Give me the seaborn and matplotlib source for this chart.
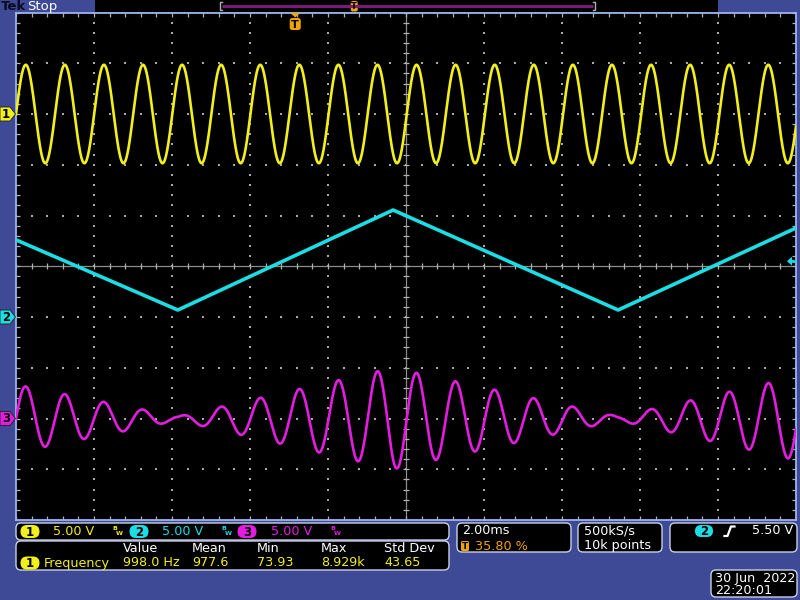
import numpy as np
import pandas as pd
import matplotlib
matplotlib.use("Agg")
import matplotlib.pyplot as plt
import seaborn as sns
from matplotlib.patches import FancyBboxPatch, Polygon, Rectangle

record_ms = [0.0, 20.0]            # 2.00 ms/div x 10 div
n_points = 10000                   # 10k points
ch1_freq_khz = 0.998               # measured frequency 998.0 Hz
ch1_amp_v = 4.85
tri_t_ms = [0.0, 4.15, 9.67, 15.44, 20.0]      # triangle vertices (ch2)
tri_v = [7.6, 0.69, 10.54, 0.69, 8.77]
ch3_env_v = [3.35, 0.2, 5.0, 0.2, 4.1]          # ch3 envelope at same vertices
volts_per_div = [5.0, 5.0, 5.0]
ch_offset_div = [3.0, -1.0, -3.0]
trigger_pos_pct = 35.80
trigger_level_v = 5.50
meas_headers = ["Value", "Mean", "Min", "Max", "Std Dev"]
meas_values = ["998.0 Hz", "977.6", "73.93", "8.929k", "43.65"]
ch_labels = ["1", "2", "3"]
scale_labels = ["5.00 V", "5.00 V", "5.00 V"]

BG = "#3e4a96"
C1, C2, C3 = "#f2f01a", "#1cdce4", "#e41ce0"
ORANGE = "#f0a400"
GRIDC = "#a8a8a8"
FRAME = "#9cb4ec"
BOXEDGE = "#c8d0e8"

# ---------------- waveforms ----------------
t = np.linspace(record_ms[0], record_ms[1], n_points)
carrier = np.sin(2 * np.pi * ch1_freq_khz * t)
ch1 = ch1_amp_v * carrier
env = np.interp(t, tri_t_ms, ch3_env_v)
ch3 = env * carrier

def tdiv(tt):
    return np.asarray(tt) / 2.0 - 5.0

df1 = pd.DataFrame({"x": tdiv(t), "y": ch1 / volts_per_div[0] + ch_offset_div[0]})
df2 = pd.DataFrame({"x": tdiv(tri_t_ms), "y": np.asarray(tri_v) / volts_per_div[1] + ch_offset_div[1]})
df3 = pd.DataFrame({"x": tdiv(t), "y": ch3 / volts_per_div[2] + ch_offset_div[2]})

fig = plt.figure(figsize=(8, 6), dpi=100, facecolor=BG)

# plot area: x 16..796 px, y 12.5..520 px
ax = fig.add_axes([16 / 800, 80 / 600, 780 / 800, 507.5 / 600])
ax.set_facecolor("black")
ax.set_xlim(-5, 5)
ax.set_ylim(-5, 5)
ax.set_xticks([]); ax.set_yticks([])
for s in ax.spines.values():
    s.set_color(FRAME); s.set_linewidth(1.3)

pxx = 10 / 780.0   # div per px (x)
pxy = 10 / 507.5   # div per px (y)
minor = np.arange(-25, 26) * 0.2
# dotted grid
for k in range(-4, 5):
    if k == 0:
        continue
    ax.scatter(np.full_like(minor, k), minor, s=1.3, marker="s", color=GRIDC, linewidths=0, zorder=1)
    ax.scatter(minor, np.full_like(minor, k), s=1.3, marker="s", color=GRIDC, linewidths=0, zorder=1)
# center cross with ticks
ax.axhline(0, color="#8c8c8c", lw=0.9, zorder=1)
ax.axvline(0, color="#8c8c8c", lw=0.9, zorder=1)
ax.vlines(minor, -3 * pxy, 3 * pxy, color="#b0b0b0", lw=0.9, zorder=1)
ax.hlines(minor, -3 * pxx, 3 * pxx, color="#b0b0b0", lw=0.9, zorder=1)
# edge ticks
ax.vlines(minor, 5 - 4 * pxy, 5, color="#b0b0b0", lw=0.9, zorder=1)
ax.vlines(minor, -5, -5 + 4 * pxy, color="#b0b0b0", lw=0.9, zorder=1)
ax.hlines(minor, -5, -5 + 4 * pxx, color="#b0b0b0", lw=0.9, zorder=1)
ax.hlines(minor, 5 - 4 * pxx, 5, color="#b0b0b0", lw=0.9, zorder=1)

sns.lineplot(data=df1, x="x", y="y", ax=ax, color=C1, lw=1.9, estimator=None, sort=False, zorder=3)
sns.lineplot(data=df2, x="x", y="y", ax=ax, color=C2, lw=2.6, estimator=None, sort=False, zorder=3)
sns.lineplot(data=df3, x="x", y="y", ax=ax, color=C3, lw=1.9, estimator=None, sort=False, zorder=3)
ax.set_xlabel(""); ax.set_ylabel("")
ax.set_xlim(-5, 5); ax.set_ylim(-5, 5)

# ---------------- overlay in pixel coordinates ----------------
ov = fig.add_axes([0, 0, 1, 1], zorder=10)
ov.set_xlim(0, 800); ov.set_ylim(600, 0)
ov.axis("off")
ov.patch.set_alpha(0)

def rbox(x0, y0, x1, y1, fc="black", ec=BOXEDGE, r=5, lw=1.0):
    ov.add_patch(FancyBboxPatch((x0, y0), x1 - x0, y1 - y0,
                                boxstyle=f"round,pad=0,rounding_size={r}",
                                fc=fc, ec=ec, lw=lw))

def badge(xc, yc, txt, fc, w=19, h=13, tc="black"):
    ov.add_patch(FancyBboxPatch((xc - w / 2, yc - h / 2), w, h,
                                boxstyle=f"round,pad=0,rounding_size={h/2}",
                                fc=fc, ec="none"))
    ov.text(xc, yc + 0.5, txt, color=tc, fontsize=8.5, fontweight="bold",
            ha="center", va="center")

FS = 9.2

# header
ov.add_patch(Rectangle((95, 0), 623, 11.5, fc="black", ec="none"))
ov.text(0.5, 6.5, "Tek", color="#0a0a20", fontsize=9.5, fontweight="bold", ha="left", va="center")
ov.text(27, 6.5, "Stop", color="white", fontsize=9.5, ha="left", va="center")
ov.plot([222, 220, 220, 222], [1.5, 1.5, 10, 10], color="#b0b0b0", lw=1)
ov.plot([593, 595, 595, 593], [1.5, 1.5, 10, 10], color="#b0b0b0", lw=1)
ov.plot([222, 593], [6, 6], color="#7a1a7a", lw=2.2, solid_capstyle="butt")
xb = 220 + trigger_pos_pct / 100 * 375
ov.add_patch(FancyBboxPatch((xb - 3.5, 1), 7, 10.5, boxstyle="round,pad=0,rounding_size=2",
                            fc=ORANGE, ec="none"))
ov.text(xb, 6.5, "T", color="black", fontsize=6, fontweight="bold", ha="center", va="center")

# trigger position marker
xt = 16 + trigger_pos_pct / 100 * 780
ov.add_patch(Polygon([(xt - 5, 13), (xt + 5, 13), (xt, 17.5)], closed=True, fc=ORANGE, ec="none"))
ov.add_patch(FancyBboxPatch((xt - 5.5, 18), 11, 12, boxstyle="round,pad=0,rounding_size=2.5",
                            fc=ORANGE, ec="none"))
ov.text(xt, 24.5, "T", color="black", fontsize=8, fontweight="bold", ha="center", va="center")

# channel ground markers on left
def ymark(div):
    return 266.25 - div * 50.75
for lab, off, col in zip(ch_labels, ch_offset_div, [C1, C2, C3]):
    y = ymark(off)
    ov.add_patch(Polygon([(0, y - 7), (10, y - 7), (15.5, y), (10, y + 7), (0, y + 7)],
                         closed=True, fc=col, ec="#202020", lw=0.6))
    ov.text(6, y + 0.5, lab, color="black", fontsize=8.5, fontweight="bold", ha="center", va="center")

# trigger level arrow on right (ch2)
yl = ymark(ch_offset_div[1] + trigger_level_v / volts_per_div[1])
ov.add_patch(Polygon([(787, yl), (792, yl - 4.5), (792, yl + 4.5)], closed=True, fc=C2, ec="none"))
ov.plot([791, 795], [yl, yl], color=C2, lw=2)

# ---------------- bottom info boxes ----------------
rbox(16, 523, 449, 540)
badge(30, 531.5, ch_labels[0], C1)
ov.text(53, 531.5, scale_labels[0], color=C1, fontsize=FS, ha="left", va="center")
badge(139, 531.5, ch_labels[1], C2)
ov.text(162, 531.5, scale_labels[1], color=C2, fontsize=FS, ha="left", va="center")
badge(247, 531.5, ch_labels[2], C3)
ov.text(271, 531.5, scale_labels[2], color=C3, fontsize=FS, ha="left", va="center")
for xi, col in zip([112, 221, 330], [C1, C2, C3]):
    ov.text(xi, 531.5, r"$^{\mathbf{B}}\!_{\mathbf{W}}$", color=col, fontsize=6.5,
            ha="left", va="center")

rbox(16, 541, 449, 570)
hx = [123, 192, 257, 321, 384]
for x, h, v in zip(hx, meas_headers, meas_values):
    ov.text(x, 549, h, color="white", fontsize=FS, ha="left", va="center")
    ov.text(x, 563, v, color=C1, fontsize=FS, ha="left", va="center")
badge(30, 563, ch_labels[0], C1)
ov.text(44, 563, "Frequency", color=C1, fontsize=FS, ha="left", va="center")

rbox(457, 523, 571, 552)
ov.text(462, 531, "2.00ms", color="white", fontsize=FS, ha="left", va="center")
ov.add_patch(FancyBboxPatch((461, 541), 8, 10, boxstyle="round,pad=0,rounding_size=1.5",
                            fc=ORANGE, ec="none"))
ov.text(465, 546.3, "T", color="black", fontsize=6.5, fontweight="bold", ha="center", va="center")
ov.text(475, 546, f"{trigger_pos_pct:.2f} %", color=ORANGE, fontsize=FS, ha="left", va="center")

rbox(578, 523, 662, 552)
ov.text(584, 531, "500kS/s", color="white", fontsize=FS, ha="left", va="center")
ov.text(584, 546, "10k points", color="white", fontsize=FS, ha="left", va="center")

rbox(670, 523, 797, 552)
badge(704, 531, ch_labels[1], C2, w=18, h=12)
ov.plot([724.5, 727.5, 731, 734.5], [536, 536, 526.5, 526.5], color="white", lw=1.6,
        solid_joinstyle="round")
ov.text(752, 531, f"{trigger_level_v:.2f} V", color="white", fontsize=FS, ha="left", va="center")

rbox(711, 570, 797, 597)
ov.text(715, 578.5, "30 Jun  2022", color="white", fontsize=FS, ha="left", va="center")
ov.text(715, 591, "22:20:01", color="white", fontsize=FS, ha="left", va="center")

fig.savefig("out.png", dpi=100, facecolor=BG)
